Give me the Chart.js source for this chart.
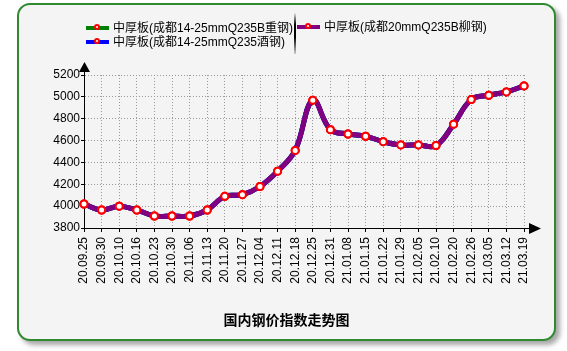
<!DOCTYPE html>
<html>
<head>
<meta charset="utf-8">
<script src="https://cdn.jsdelivr.net/npm/chart.js@4"></script>
<style>
  html, body { margin: 0; padding: 0; background: #fff; }
  body { width: 567px; height: 351px; position: relative; overflow: hidden;
    font-family: "Liberation Sans", "Noto Sans CJK SC", sans-serif; }
  .frame { position: absolute; left: 17px; top: 3px; width: 535px; height: 334px;
    border: 2px solid #2f8a2f; border-radius: 13px; background: #f4f4f4;
    box-shadow: 4px 4px 5px rgba(0,0,0,0.35); }
  canvas#chart { position: absolute; left: 0; top: 0; }
  .lg { position: absolute; font-size: 12px; color: #000; white-space: nowrap; line-height: 14px; }
  .lg .mk { display: inline-block; position: relative; width: 23px; height: 4px; vertical-align: middle;
    margin-right: 4px; top: -1px; }
  .lg .mk i { position: absolute; border: 2px solid #f00; border-radius: 50%; background: #fff;
    box-sizing: content-box; width: 2px; height: 2px; top: -2px; left: 8px; }
  .sep { position: absolute; left: 294px; top: 12px; width: 2px; height: 42px;
    background: linear-gradient(#fff, #000 30%, #000 60%, #ccc); }
  .title { position: absolute; left: 0; width: 573px; top: 309px; text-align: center;
    font-family: "Noto Sans CJK SC", sans-serif; font-weight: bold; font-size: 14px; color: #000; }
</style>
</head>
<body>
<div class="frame"></div>
<canvas id="chart" width="567" height="351"></canvas>
<div class="lg" id="lg0" style="left:86px; top:21px;"></div>
<div class="lg" id="lg1" style="left:86px; top:35px;"></div>
<div class="sep"></div>
<div class="lg" id="lg2" style="left:297px; top:20px;"></div>
<div class="title">国内钢价指数走势图</div>
<script>
const labels = ["20.09.25","20.09.30","20.10.10","20.10.16","20.10.23","20.10.30","20.11.06","20.11.13","20.11.20",
  "20.11.27","20.12.04","20.12.11","20.12.18","20.12.25","20.12.31","21.01.08","21.01.15","21.01.22","21.01.29",
  "21.02.05","21.02.10","21.02.20","21.02.26","21.03.05","21.03.12","21.03.19"];

// three plates, same readings (curves overlap, purple drawn on top)
const chongGang = [4020,3965,4000,3965,3910,3910,3910,3965,4090,4105,4180,4320,4510,4970,4700,4660,4640,4590,4560,4560,4555,4750,4975,5015,5045,5100];
const jiuGang   = [4020,3965,4000,3965,3910,3910,3910,3965,4090,4105,4180,4320,4510,4970,4700,4660,4640,4590,4560,4560,4555,4750,4975,5015,5045,5100];
const liuGang   = [4020,3965,4000,3965,3910,3910,3910,3965,4090,4105,4180,4320,4510,4970,4700,4660,4640,4590,4560,4560,4555,4750,4975,5015,5045,5100];

const seriesNames = ["中厚板(成都14-25mmQ235B重钢)", "中厚板(成都14-25mmQ235酒钢)", "中厚板(成都20mmQ235B柳钢)"];
const seriesColors = ["#008000", "#0000ff", "#800080"];
const yTicks = { min: 3800, max: 5200, step: 200 };

// html legend
seriesNames.forEach((name, i) => {
  const d = document.getElementById("lg" + i);
  d.innerHTML = '<span class="mk" style="background:' + seriesColors[i] + '"><i></i></span>' + name;
});

const arrows = {
  id: "arrows",
  afterDraw(chart){
    const { ctx, chartArea: a } = chart;
    ctx.save();
    ctx.strokeStyle = "#000";
    ctx.fillStyle = "#000";
    ctx.lineWidth = 1;
    ctx.beginPath();
    ctx.moveTo(a.left + 0.5, a.top);
    ctx.lineTo(a.left + 0.5, a.top - 5);
    ctx.moveTo(a.right, a.bottom + 0.5);
    ctx.lineTo(a.right + 6, a.bottom + 0.5);
    ctx.stroke();
    ctx.beginPath();
    ctx.moveTo(a.left + 0.5, a.top - 13);
    ctx.lineTo(a.left - 5, a.top - 3);
    ctx.lineTo(a.left + 6, a.top - 3);
    ctx.closePath();
    ctx.fill();
    ctx.beginPath();
    ctx.moveTo(a.right + 17, a.bottom + 0.5);
    ctx.lineTo(a.right + 5, a.bottom - 5);
    ctx.lineTo(a.right + 5, a.bottom + 6);
    ctx.closePath();
    ctx.fill();
    ctx.restore();
  }
};

const mkDs = (data, i) => ({
  label: seriesNames[i],
  data,
  borderColor: seriesColors[i],
  borderWidth: 5,
  tension: 0.4,
  pointRadius: 3.5,
  pointBorderWidth: 2,
  pointBorderColor: "#ff0000",
  pointBackgroundColor: "#ffffff",
  clip: false,
  order: 3 - i
});

new Chart(document.getElementById("chart"), {
  type: "line",
  data: {
    labels,
    datasets: [mkDs(chongGang, 0), mkDs(jiuGang, 1), mkDs(liuGang, 2)]
  },
  options: {
    responsive: false,
    animation: false,
    layout: { padding: { left: 0, top: 75, right: 43, bottom: 63 } },
    plugins: { legend: { display: false }, tooltip: { enabled: false } },
    scales: {
      x: {
        offset: false,
        afterFit: (s) => { s.height = 60; },
        ticks: { autoSkip: false, maxRotation: 90, minRotation: 90, padding: 5, color: "#000",
          font: { family: "Liberation Sans", size: 12 } },
        grid: { color: "#9a9a9a", tickColor: "#000", tickLength: 4, tickBorderDash: [] },
        border: { color: "#000", width: 1, dash: [1, 2] }
      },
      y: {
        min: yTicks.min, max: yTicks.max,
        afterFit: (s) => { s.width = 84; },
        ticks: { stepSize: yTicks.step, padding: 1, color: "#000",
          font: { family: "Liberation Sans", size: 12 },
          callback: (v) => String(v) },
        grid: { color: "#9a9a9a", tickColor: "#000", tickLength: 3, tickBorderDash: [] },
        border: { color: "#000", width: 1, dash: [1, 2] }
      }
    }
  },
  plugins: [arrows]
});
</script>
</body>
</html>
